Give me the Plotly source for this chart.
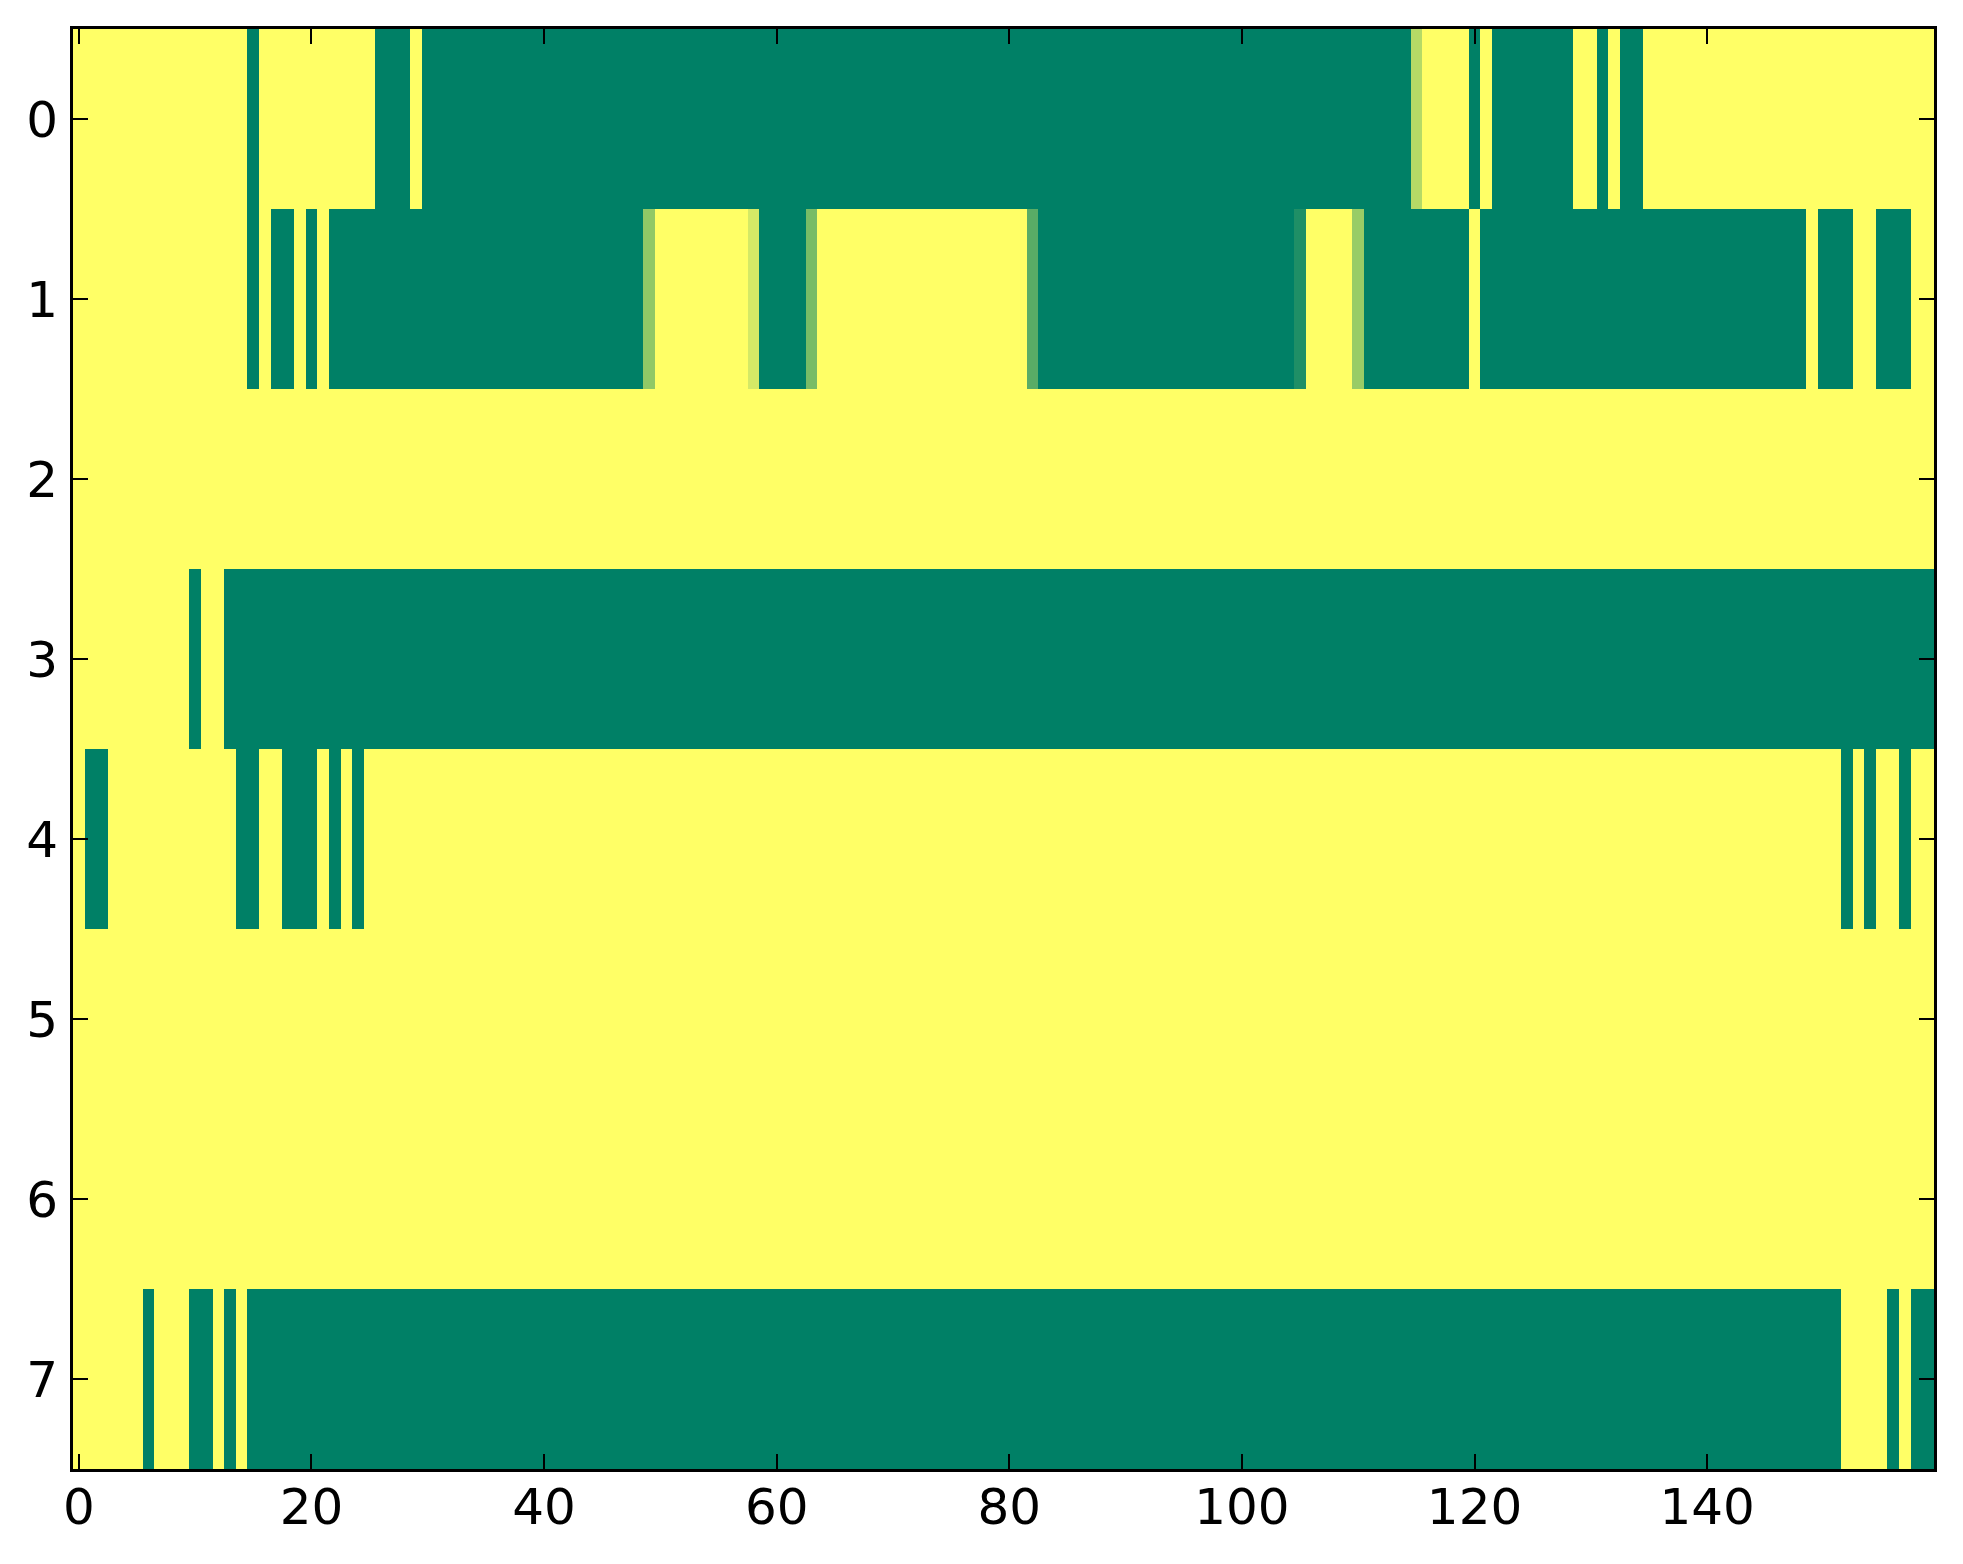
import plotly.graph_objects as go

# Run-length readings (value, count) for each of the 8 rows, 160 columns each
row0_runs = [(1, 15), (0, 1), (1, 10), (0, 3), (1, 1), (0, 85), (0.71, 1), (1, 4), (0, 1), (1, 1),
             (0, 7), (1, 2), (0, 1), (1, 1), (0, 2), (1, 25)]
row1_runs = [(1, 15), (0, 1), (1, 1), (0, 2), (1, 1), (0, 1), (1, 1), (0, 27), (0.57, 1), (1, 8),
             (0.83, 1), (0, 4), (0.47, 1), (1, 18), (0.35, 1), (0, 22), (0.12, 1), (1, 4), (0.6, 1),
             (0, 9), (1, 1), (0, 28), (1, 1), (0, 3), (1, 2), (0, 3), (1, 2)]
row2_runs = [(1, 160)]
row3_runs = [(1, 10), (0, 1), (1, 2), (0, 147)]
row4_runs = [(1, 1), (0, 2), (1, 11), (0, 2), (1, 2), (0, 3), (1, 1), (0, 1), (1, 1), (0, 1),
             (1, 127), (0, 1), (1, 1), (0, 1), (1, 2), (0, 1), (1, 2)]
row5_runs = [(1, 160)]
row6_runs = [(1, 160)]
row7_runs = [(1, 6), (0, 1), (1, 3), (0, 2), (1, 1), (0, 1), (1, 1), (0, 137), (1, 4), (0, 1),
             (1, 1), (0, 2)]

all_runs = [row0_runs, row1_runs, row2_runs, row3_runs, row4_runs, row5_runs, row6_runs, row7_runs]

x_ticks = [0, 20, 40, 60, 80, 100, 120, 140]
y_ticks = [0, 1, 2, 3, 4, 5, 6, 7]


def expand(runs):
    out = []
    for v, n in runs:
        out.extend([v] * n)
    return out


z = [expand(r) for r in all_runs]
ncols = len(z[0])

fig = go.Figure(go.Heatmap(
    z=z,
    x=list(range(ncols)),
    y=list(range(len(z))),
    colorscale=[[0, "#008066"], [1, "#ffff66"]],
    zmin=0, zmax=1,
    showscale=False,
    hoverinfo="skip",
))

axis_common = dict(
    showline=True, linecolor="black", linewidth=3, mirror="ticks",
    ticks="inside", ticklen=15, tickwidth=1.5, tickcolor="black",
    showgrid=False, zeroline=False,
    tickfont=dict(family="DejaVu Sans", size=50, color="black"),
)

fig.update_xaxes(range=[-0.5, ncols - 0.5], tickmode="array", tickvals=x_ticks,
                 ticklabelstandoff=-8, **axis_common)
fig.update_yaxes(range=[len(z) - 0.5, -0.5], tickmode="array", tickvals=y_ticks,
                 ticklabelstandoff=2, **axis_common)

# page body adds an 8px margin; size/margins compensate so the plot sits where the reference has it
fig.update_layout(
    width=1947, height=1548,
    margin=dict(l=65, r=21, t=21, b=87, pad=0),
    paper_bgcolor="white", plot_bgcolor="white",
)

fig.write_html("out.html")
